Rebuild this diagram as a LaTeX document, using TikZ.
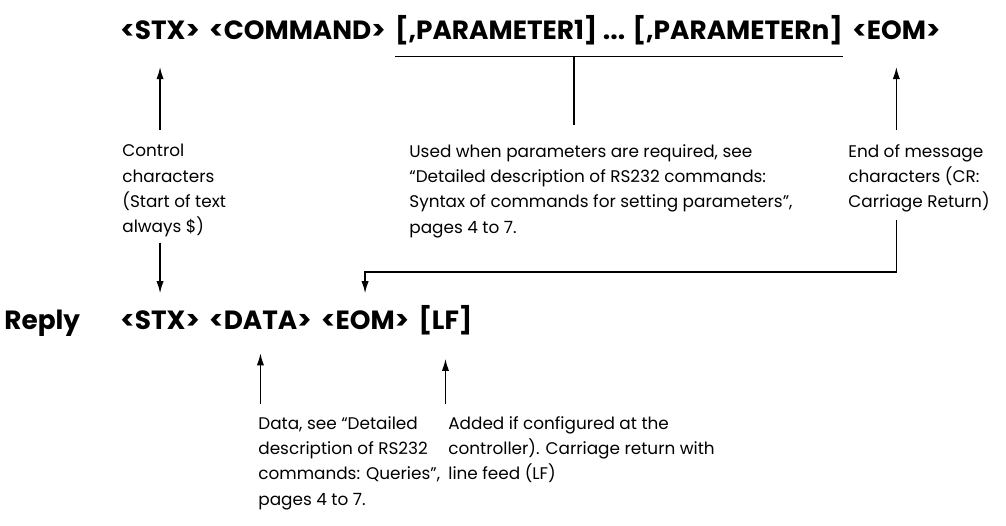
\documentclass[tikz,border=0pt]{standalone}
\usepackage{fontspec}
\setmainfont{Poppins}
\usetikzlibrary{arrows.meta,positioning,calc}

\begin{document}
\begin{tikzpicture}[
  x=0.02cm, y=-0.02cm,
  font=\fontsize{9.6}{14.4}\selectfont,
  field/.style={font=\fontsize{15}{16}\selectfont\bfseries, inner sep=0pt, anchor=base west},
  note/.style={align=left, inner sep=0pt, anchor=north west},
  ptr/.style={-{Latex[length=7pt,width=4.2pt]}, line width=0.9pt},
  rule/.style={line width=0.9pt}
]
\useasboundingbox (0,0) rectangle (1006,526);

% command line
\node[field] (stx) at (120,40) {<STX>};
\node[field] (cmd) at ([xshift=5pt]stx.base east) {<COMMAND>};
\node[field] (params) at ([xshift=5pt]cmd.base east) {[,PARAMETER1] ... [,PARAMETERn]};
\node[field] (eom) at ([xshift=5pt]params.base east) {<EOM>};

\node[note] (ctrl) at (122,144) {Control\\characters\\(Start of text\\always \$)};
\node[note] (used) at (409,144) {Used when parameters are required, see\\``Detailed description of RS232 commands:\\Syntax of commands for setting parameters'',\\pages 4 to 7.};
\node[note] (eomnote) at (848,144) {End of message\\characters (CR:\\Carriage Return)};

% reply line
\node[field] (reply) at (4,330) {Reply};
\node[field] (rstx) at (120,330) {<STX>};
\node[field] (rdata) at ([xshift=5pt]rstx.base east) {<DATA>};
\node[field] (reom) at ([xshift=5pt]rdata.base east) {<EOM>};
\node[field] (rlf) at ([xshift=5pt]reom.base east) {[LF]};

\node[note] (datanote) at (258,416) {Data, see ``Detailed\\description of RS232\\commands: Queries'',\\pages 4 to 7.};
\node[note] (addnote) at (448,416) {Added if configured at the\\controller). Carriage return with\\line feed (LF)};

% connectors
\coordinate (ul) at ([yshift=-6pt]params.south west);
\coordinate (ur) at ([yshift=-6pt]params.south east);
\coordinate (tick) at ($(ul)!0.4!(ur)$);
\coordinate (bend) at (0,272);
\draw[rule] (ul) -- (ur);
\draw[rule, shorten >=11pt] (tick) -- (tick |- used.north);

\draw[ptr, shorten <=8pt, shorten >=15pt] (stx.south |- ctrl.north) -- (stx.south);
\draw[ptr, shorten <=8pt, shorten >=15pt] (eom.south |- eomnote.north) -- (eom.south);
\draw[ptr, shorten <=3pt, shorten >=10pt] (stx.south |- ctrl.south) -- (stx.south |- rstx.north);
\draw[ptr, shorten >=10pt] ([yshift=-4pt]eom.south |- eomnote.south) -- (eom.south |- bend) -| (reom.north);
\draw[ptr, shorten <=7pt, shorten >=13pt] (rdata.south |- datanote.north) -- (rdata.south);
\draw[ptr, shorten <=7pt, shorten >=13pt] (rlf.south |- addnote.north) -- (rlf.south);
\end{tikzpicture}
\end{document}
